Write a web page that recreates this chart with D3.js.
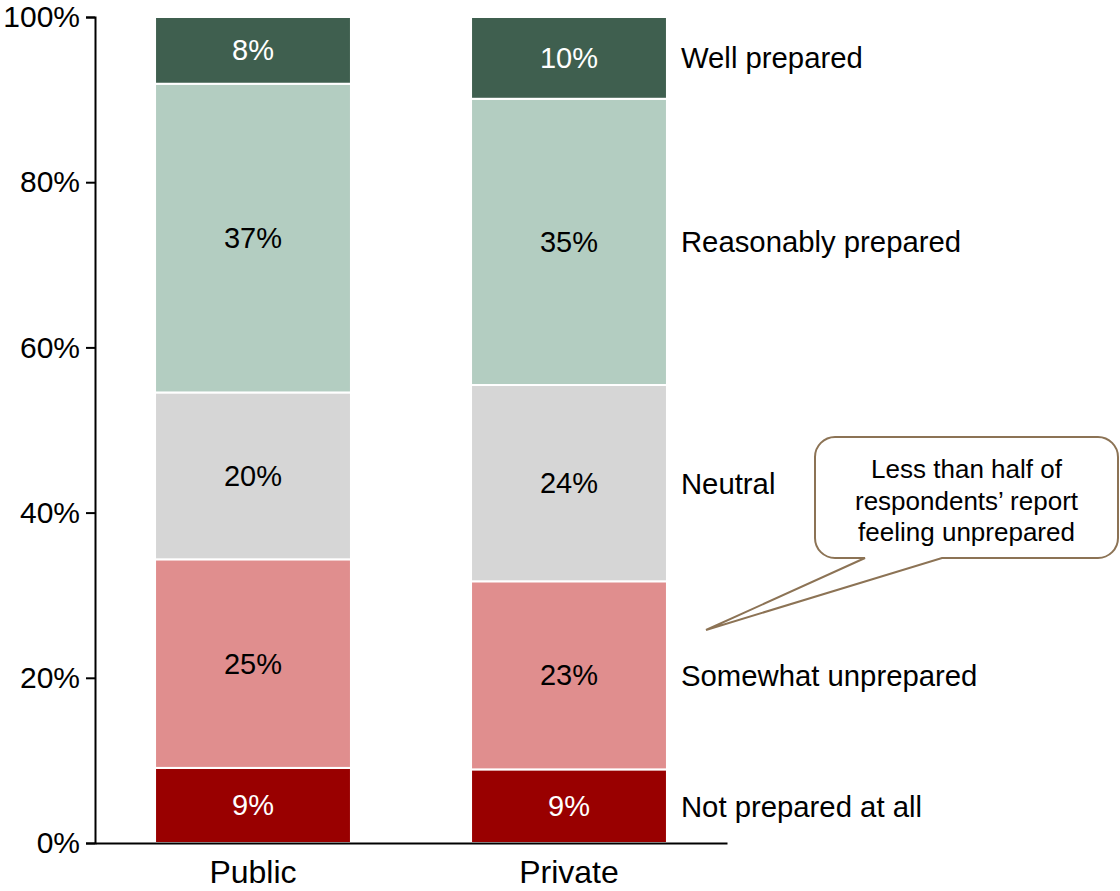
<!DOCTYPE html>
<html>
<head>
<meta charset="utf-8">
<script src="https://cdn.jsdelivr.net/npm/d3@7/dist/d3.min.js"></script>
<style>
  body { margin: 0; background: #fff; }
  svg { display: block; font-family: "Liberation Sans", Arial, sans-serif; }
</style>
</head>
<body>
<svg id="chart" width="1120" height="891"></svg>
<script>
// Preparedness by sector (share of respondents, %)
const categories = ["Public", "Private"];
const levels = ["Not prepared at all", "Somewhat unprepared", "Neutral", "Reasonably prepared", "Well prepared"];
const publicValues  = [9, 25, 20, 37, 8];
const privateValues = [9, 23, 24, 35, 10];
const yTicks = [0, 20, 40, 60, 80, 100];
const tickLabels = ["0%", "20%", "40%", "60%", "80%", "100%"];
const calloutLines = ["Less than half of", "respondents\u2019 report", "feeling unprepared"];

const colors = ["#990000", "#e08e8e", "#d6d6d6", "#b3cdc1", "#3f5f4f"];
const labelColors = ["#ffffff", "#000000", "#000000", "#000000", "#ffffff"];

const rows = categories.map((c, i) => {
  const vals = i === 0 ? publicValues : privateValues;
  const r = { category: c };
  levels.forEach((l, j) => r[l] = vals[j]);
  return r;
});

const svg = d3.select("#chart");
const plotLeft = 95, plotRight = 727, plotTop = 17, plotBottom = 843;

const x = d3.scaleBand().domain(categories).range([plotLeft, plotRight])
  .paddingInner(0.38).paddingOuter(0.19);
const y = d3.scaleLinear().domain([0, 1]).range([plotBottom, plotTop]);

const stack = d3.stack().keys(levels).offset(d3.stackOffsetExpand);
const series = stack(rows);

// stacked segments
const g = svg.append("g");
series.forEach((s, j) => {
  g.selectAll(null).data(s).join("rect")
    .attr("x", d => x(d.data.category))
    .attr("width", x.bandwidth())
    .attr("y", d => y(d[1]))
    .attr("height", d => y(d[0]) - y(d[1]))
    .attr("fill", colors[j])
    .attr("stroke", "#fff")
    .attr("stroke-width", 2);

  g.selectAll(null).data(s).join("text")
    .attr("x", d => x(d.data.category) + x.bandwidth() / 2)
    .attr("y", d => (y(d[0]) + y(d[1])) / 2)
    .attr("text-anchor", "middle")
    .attr("dominant-baseline", "central")
    .attr("font-size", 29)
    .attr("fill", labelColors[j])
    .text(d => d.data[levels[j]] + "%");
});

// level names beside the Private column
const last = categories[categories.length - 1];
series.forEach((s, j) => {
  const d = s.find(e => e.data.category === last);
  svg.append("text")
    .attr("x", x(last) + x.bandwidth() + 14)
    .attr("y", (y(d[0]) + y(d[1])) / 2)
    .attr("dominant-baseline", "central")
    .attr("font-size", 29.3)
    .attr("fill", "#000")
    .text(levels[j]);
});

// axes
const yAxis = d3.axisLeft(y)
  .tickValues(yTicks.map(v => v / 100))
  .tickFormat((d, i) => tickLabels[i])
  .tickSize(9).tickSizeOuter(9).tickPadding(6);
const ya = svg.append("g").attr("transform", `translate(${plotLeft},0)`).call(yAxis);
ya.selectAll("text").attr("font-size", 30).attr("fill", "#000");
ya.attr("font-family", null);
ya.selectAll("line, path").attr("stroke", "#000").attr("stroke-width", 2);

const xAxis = d3.axisBottom(x).tickSize(0).tickSizeOuter(0).tickPadding(17);
const xa = svg.append("g").attr("transform", `translate(0,${plotBottom})`).call(xAxis);
xa.selectAll("text").attr("font-size", 32).attr("fill", "#000");
xa.attr("font-family", null);
xa.selectAll("path").attr("stroke", "#000").attr("stroke-width", 2);
xa.selectAll("line").remove();

// callout bubble
const bx0 = 815, by0 = 437, bx1 = 1118, by1 = 558, rad = 20;
const p1 = 865, p2 = 942, tipX = 706, tipY = 630;
const path = d3.path();
path.moveTo(bx0 + rad, by0);
path.lineTo(bx1 - rad, by0);
path.arcTo(bx1, by0, bx1, by0 + rad, rad);
path.lineTo(bx1, by1 - rad);
path.arcTo(bx1, by1, bx1 - rad, by1, rad);
path.lineTo(p2, by1);
path.lineTo(tipX, tipY);
path.lineTo(p1, by1);
path.lineTo(bx0 + rad, by1);
path.arcTo(bx0, by1, bx0, by1 - rad, rad);
path.lineTo(bx0, by0 + rad);
path.arcTo(bx0, by0, bx0 + rad, by0, rad);
path.closePath();
svg.append("path").attr("d", path.toString())
  .attr("fill", "#fff").attr("stroke", "#8c7355").attr("stroke-width", 2);

svg.append("g").selectAll("text").data(calloutLines).join("text")
  .attr("x", (bx0 + bx1) / 2)
  .attr("y", (d, i) => 469 + i * 31.5)
  .attr("text-anchor", "middle")
  .attr("dominant-baseline", "central")
  .attr("font-size", 26)
  .attr("fill", "#000")
  .text(d => d);
</script>
</body>
</html>
